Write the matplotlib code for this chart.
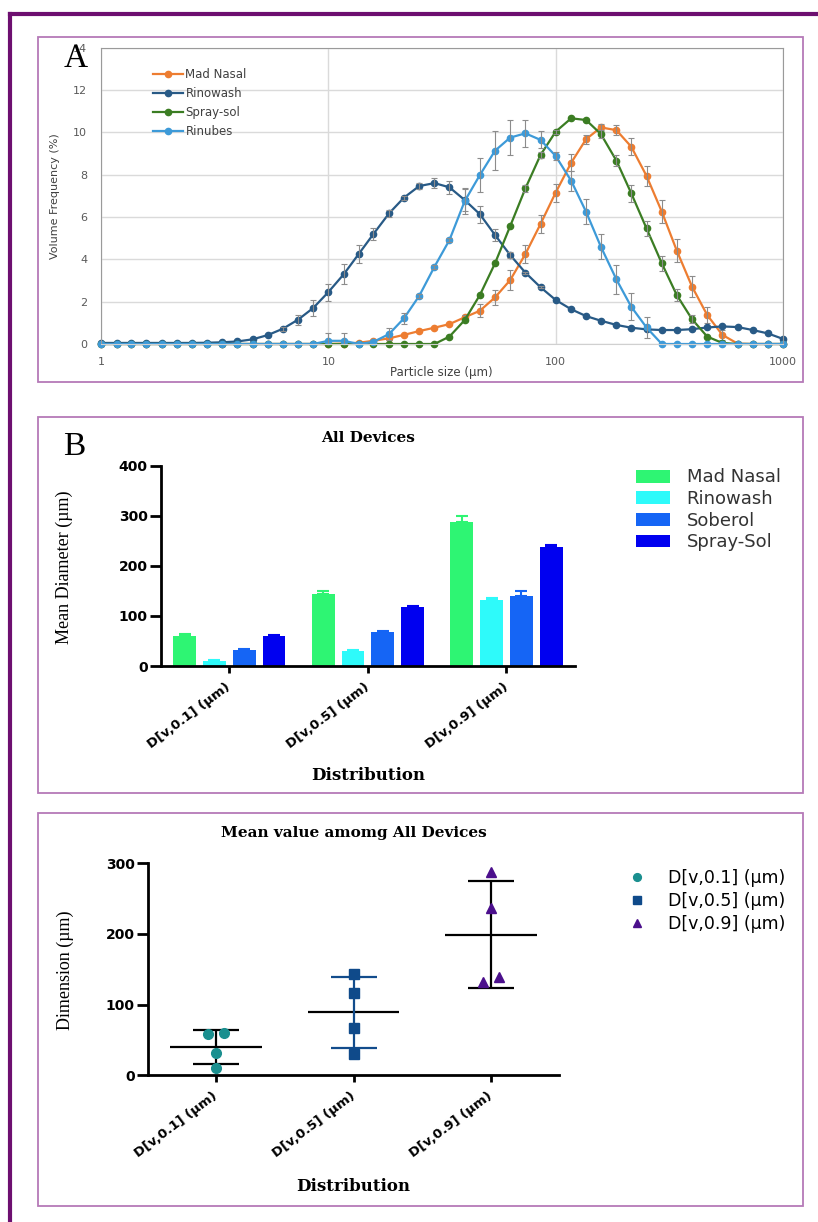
import numpy as np
import matplotlib
matplotlib.use("Agg")
import matplotlib.pyplot as plt
from matplotlib.patches import Rectangle
from matplotlib.lines import Line2D
from matplotlib.ticker import NullLocator

OUT_FILE = "out.png"
W, H = 818, 1222

# ---- panel A: volume frequency vs particle size (15 bins per decade) ----
size_um = [1.0, 1.17, 1.36, 1.58, 1.85, 2.15, 2.51, 2.93, 3.41, 3.98,
           4.64, 5.41, 6.31, 7.36, 8.58, 10.0, 11.7, 13.6, 15.8, 18.5,
           21.5, 25.1, 29.3, 34.1, 39.8, 46.4, 54.1, 63.1, 73.6, 85.8,
           100, 117, 136, 158, 185, 215, 251, 293, 341, 398,
           464, 541, 631, 736, 858, 1000]

mad_nasal_freq = [0, 0, 0, 0, 0, 0, 0, 0, 0, 0,
                  0, 0, 0, 0, 0, 0, 0.02, 0.06, 0.15, 0.27,
                  0.43, 0.61, 0.77, 0.94, 1.26, 1.57, 2.2, 3.02, 4.25, 5.67,
                  7.15, 8.56, 9.67, 10.23, 10.1, 9.32, 7.94, 6.25, 4.41, 2.71,
                  1.37, 0.43, 0.02, 0, 0, 0]
mad_nasal_err = [0, 0, 0, 0, 0, 0, 0, 0, 0, 0,
                 0, 0, 0, 0, 0, 0, 0, 0, 0, 0,
                 0, 0, 0, 0, 0.1, 0.3, 0.35, 0.47, 0.43, 0.43,
                 0.43, 0.4, 0.2, 0.15, 0.24, 0.4, 0.47, 0.55, 0.55, 0.5,
                 0.4, 0.25, 0, 0, 0, 0]

rinowash_freq = [0.05, 0.05, 0.05, 0.05, 0.05, 0.05, 0.05, 0.06, 0.08, 0.12,
                 0.22, 0.42, 0.72, 1.15, 1.7, 2.45, 3.3, 4.25, 5.2, 6.17,
                 6.91, 7.46, 7.6, 7.4, 6.8, 6.13, 5.15, 4.2, 3.37, 2.68,
                 2.08, 1.64, 1.32, 1.1, 0.9, 0.77, 0.69, 0.66, 0.66, 0.7,
                 0.78, 0.83, 0.8, 0.66, 0.5, 0.24]
rinowash_err = [0, 0, 0, 0, 0, 0, 0, 0, 0, 0,
                0, 0, 0.1, 0.24, 0.4, 0.4, 0.47, 0.43, 0.3, 0.15,
                0.1, 0.15, 0.24, 0.3, 0.5, 0.4, 0.3, 0.15, 0.05, 0.05,
                0, 0, 0, 0, 0, 0, 0, 0, 0, 0,
                0, 0, 0, 0, 0, 0]

spray_sol_freq = [0, 0, 0, 0, 0, 0, 0, 0, 0, 0,
                  0, 0, 0, 0, 0, 0, 0, 0, 0, 0,
                  0, 0, 0, 0.35, 1.13, 2.31, 3.81, 5.57, 7.35, 8.93,
                  10.03, 10.66, 10.58, 9.92, 8.66, 7.12, 5.46, 3.81, 2.31, 1.17,
                  0.35, 0.05, 0, 0, 0, 0]
spray_sol_err = [0, 0, 0, 0, 0, 0, 0, 0, 0, 0,
                 0, 0, 0, 0, 0, 0, 0, 0, 0, 0,
                 0, 0, 0, 0, 0, 0, 0, 0, 0.15, 0.15,
                 0.1, 0, 0, 0.2, 0.25, 0.4, 0.35, 0.35, 0.3, 0.2,
                 0, 0, 0, 0, 0, 0]

rinubes_freq = [0, 0, 0, 0, 0, 0, 0, 0, 0, 0,
                0, 0, 0, 0, 0, 0.15, 0.15, 0, 0.1, 0.47,
                1.21, 2.27, 3.65, 4.91, 6.75, 7.98, 9.13, 9.75, 9.95, 9.64,
                8.88, 7.71, 6.25, 4.6, 3.05, 1.76, 0.78, 0, 0, 0,
                0, 0, 0, 0, 0, 0]
rinubes_err = [0, 0, 0, 0, 0, 0, 0, 0, 0, 0,
               0, 0, 0, 0, 0, 0.35, 0.35, 0, 0, 0.3,
               0.25, 0.1, 0.1, 0.1, 0.63, 0.82, 0.92, 0.82, 0.63, 0.4,
               0.2, 0.47, 0.58, 0.59, 0.67, 0.63, 0.5, 0, 0, 0,
               0, 0, 0, 0, 0, 0]

# ---- panel B / C: D[v,x] per device ----
dist_labels = ["D[v,0.1] (µm)", "D[v,0.5] (µm)", "D[v,0.9] (µm)"]
devices = ["Mad Nasal", "Rinowash", "Soberol", "Spray-Sol"]
mad_nasal_d = [60, 143, 287]
rinowash_d = [10, 30, 132]
soberol_d = [32, 67, 139]
spray_sol_d = [59, 117, 237]
mad_nasal_d_err = [3, 6, 12]
rinowash_d_err = [1, 1, 3]
soberol_d_err = [2, 2, 10]
spray_sol_d_err = [2, 2, 4]

FRAME = "#b57ab8"
OUTER = "#6d0f70"


def px_axes(fig, left, top, right, bottom):
    return fig.add_axes([left / W, 1 - bottom / H, (right - left) / W, (bottom - top) / H])


def px_text(fig, x, y, s, **kw):
    kw.setdefault("ha", "center")
    kw.setdefault("va", "center")
    return fig.text(x / W, 1 - y / H, s, **kw)


def px_frame(fig, left, top, right, bottom, color=FRAME, lw=1.3):
    fig.add_artist(Rectangle((left / W, 1 - bottom / H), (right - left) / W, (bottom - top) / H,
                             transform=fig.transFigure, fill=False, ec=color, lw=lw))


def style_prism(ax, ymax, ystep):
    ax.set_ylim(0, ymax)
    ax.set_xlim(-0.495, 2.495)
    for s in ["top", "right"]:
        ax.spines[s].set_visible(False)
    for s in ["left", "bottom"]:
        ax.spines[s].set_linewidth(2.0)
    ticks = list(range(0, ymax + 1, ystep))
    ax.set_yticks(ticks, labels=[str(t) for t in ticks], fontweight="bold",
                  fontsize=10, family="DejaVu Sans")
    ax.set_xticks(range(3), labels=dist_labels, fontweight="bold", fontsize=9.5,
                  family="DejaVu Sans", rotation=37, ha="right", va="center",
                  rotation_mode="anchor")
    ax.tick_params(axis="y", length=8, width=2, pad=1.5)
    ax.tick_params(axis="x", length=5, width=2, pad=9)


def panel_a(fig):
    ax = px_axes(fig, 101, 47.6, 783, 344)
    ax.set_xscale("log")
    ax.set_xlim(1, 1000)
    ax.set_ylim(0, 14)
    ax.xaxis.set_minor_locator(NullLocator())
    ax.set_xticks([1, 10, 100, 1000], labels=["1", "10", "100", "1000"])
    ax.set_yticks(range(0, 15, 2))
    ax.grid(True, color="#dadada", lw=1)
    ax.set_axisbelow(True)
    ax.tick_params(length=0, labelsize=8, colors="#595959")
    ax.tick_params(axis="y", pad=10)
    ax.tick_params(axis="x", pad=9)
    for s in ["left", "top", "right"]:
        ax.spines[s].set_color("#9a9a9a")
    ax.spines["bottom"].set_color("#d0d0d0")

    x = np.array(size_um)
    series = [
        ("Mad Nasal", mad_nasal_freq, mad_nasal_err, "#ed7d31"),
        ("Rinowash", rinowash_freq, rinowash_err, "#285a86"),
        ("Spray-sol", spray_sol_freq, spray_sol_err, "#3b7d23"),
        ("Rinubes", rinubes_freq, rinubes_err, "#3d9ad8"),
    ]
    handles = []
    for name, vals, err, color in series:
        vals = np.array(vals)
        err = np.array(err)
        line, = ax.plot(x, vals, "-o", color=color, ms=4.5, lw=1.6, label=name, clip_on=False)
        handles.append(line)
        m = err > 0
        ax.errorbar(x[m], vals[m], yerr=err[m], fmt="none", ecolor="#8c8c8c",
                    elinewidth=0.8, capsize=2, capthick=0.8)

    leg = ax.legend(handles=handles, loc="upper left", bbox_to_anchor=(153 / W, 1 - 68 / H),
                    bbox_transform=fig.transFigure, frameon=False, fontsize=8.5,
                    handlelength=2.55, handletextpad=0.2, labelspacing=0.52,
                    borderpad=0, borderaxespad=0, numpoints=1)
    for t in leg.get_texts():
        t.set_color("#404040")

    px_text(fig, 55, 196, "Volume Frequency (%)", rotation=90, fontsize=8, color="#404040")
    px_text(fig, 441, 372.5, "Particle size (µm)", fontsize=8.5, color="#404040")
    px_text(fig, 76, 59, "A", fontsize=24, family="Liberation Serif")


def panel_b(fig):
    ax = px_axes(fig, 160.7, 465.7, 575, 666)
    xpos = np.arange(3)
    colors = ["#2ef573", "#2efafa", "#1565f5", "#0000f0"]
    vals = [mad_nasal_d, rinowash_d, soberol_d, spray_sol_d]
    errs = [mad_nasal_d_err, rinowash_d_err, soberol_d_err, spray_sol_d_err]
    for i, (dev, v, e, c) in enumerate(zip(devices, vals, errs, colors)):
        ax.bar(xpos + (i - 1.5) * 0.215, v, 0.165, color=c, label=dev,
               yerr=[np.zeros(3), e],
               error_kw=dict(ecolor=c, elinewidth=1.5, capsize=4.3, capthick=1.5))
    style_prism(ax, 400, 100)

    leg = ax.legend(loc="upper left", bbox_to_anchor=(636 / W, 1 - 468.5 / H),
                    bbox_transform=fig.transFigure, frameon=False,
                    prop=dict(family="DejaVu Sans", size=13),
                    handlelength=1.9, handleheight=0.72, handletextpad=0.9,
                    labelspacing=0.2, borderpad=0, borderaxespad=0)
    for t in leg.get_texts():
        t.set_color("#333333")

    px_text(fig, 368, 437.7, "All Devices", fontsize=11, fontweight="bold", family="DejaVu Serif")
    px_text(fig, 64, 567, "Mean Diameter (µm)", rotation=90, fontsize=13, family="Liberation Serif")
    px_text(fig, 368, 775, "Distribution", fontsize=12, fontweight="bold", family="DejaVu Serif")
    px_text(fig, 74, 447, "B", fontsize=24, family="Liberation Serif")


def jitter(vals, gap=12, step=0.058):
    offs = np.zeros(len(vals))
    order = np.argsort(vals)
    for a, b in zip(order[:-1], order[1:]):
        if vals[b] - vals[a] < gap:
            offs[a] -= step
            offs[b] += step
    return offs


def panel_c(fig):
    ax = px_axes(fig, 147.7, 863.3, 559.3, 1075.3)
    table = np.array([mad_nasal_d, rinowash_d, soberol_d, spray_sol_d]).T
    means = table.mean(axis=1)
    sds = table.std(axis=1, ddof=1)

    markers = ["o", "s", "^"]
    mcolors = ["#1a8f8f", "#0f4a8a", "#4b0f8c"]
    msizes = [7, 6.5, 6.5]
    bar_colors = ["black", "#124c8c", "black"]
    for i in range(3):
        ax.hlines(means[i], i - 0.333, i + 0.333, color="black", lw=1.6, zorder=2)
        ax.errorbar(i, means[i], yerr=sds[i], fmt="none", ecolor=bar_colors[i],
                    elinewidth=1.6, capsize=16.5, capthick=1.6, zorder=2)
        ax.plot(i + jitter(table[i]), table[i], linestyle="none", marker=markers[i],
                color=mcolors[i], ms=msizes[i], label=dist_labels[i], zorder=3)
    style_prism(ax, 300, 100)

    ax.legend(loc="upper left", bbox_to_anchor=(628 / W, 1 - 869 / H),
              bbox_transform=fig.transFigure, frameon=False,
              prop=dict(family="DejaVu Sans", size=12.5), markerscale=0.8,
              handlelength=1.0, handletextpad=1.3, labelspacing=0.29,
              borderpad=0, borderaxespad=0, numpoints=1)

    px_text(fig, 353.5, 833, "Mean value amomg All Devices", fontsize=11, fontweight="bold",
            family="DejaVu Serif")
    px_text(fig, 65, 970, "Dimension (µm)", rotation=90, fontsize=13, family="Liberation Serif")
    px_text(fig, 353, 1186.7, "Distribution", fontsize=12, fontweight="bold", family="DejaVu Serif")


fig = plt.figure(figsize=(W / 100, H / 100), dpi=100)
fig.add_artist(Line2D([9.5 / W, 1], [1 - 13.5 / H] * 2, transform=fig.transFigure, color=OUTER, lw=3))
fig.add_artist(Line2D([9.5 / W] * 2, [0, 1 - 13.5 / H], transform=fig.transFigure, color=OUTER, lw=3))
px_frame(fig, 37.7, 36.7, 802.7, 381.7)
px_frame(fig, 37.7, 416.7, 802.7, 792.7)
px_frame(fig, 38, 812.7, 802.7, 1206)

panel_a(fig)
panel_b(fig)
panel_c(fig)

fig.savefig(OUT_FILE, dpi=100)
